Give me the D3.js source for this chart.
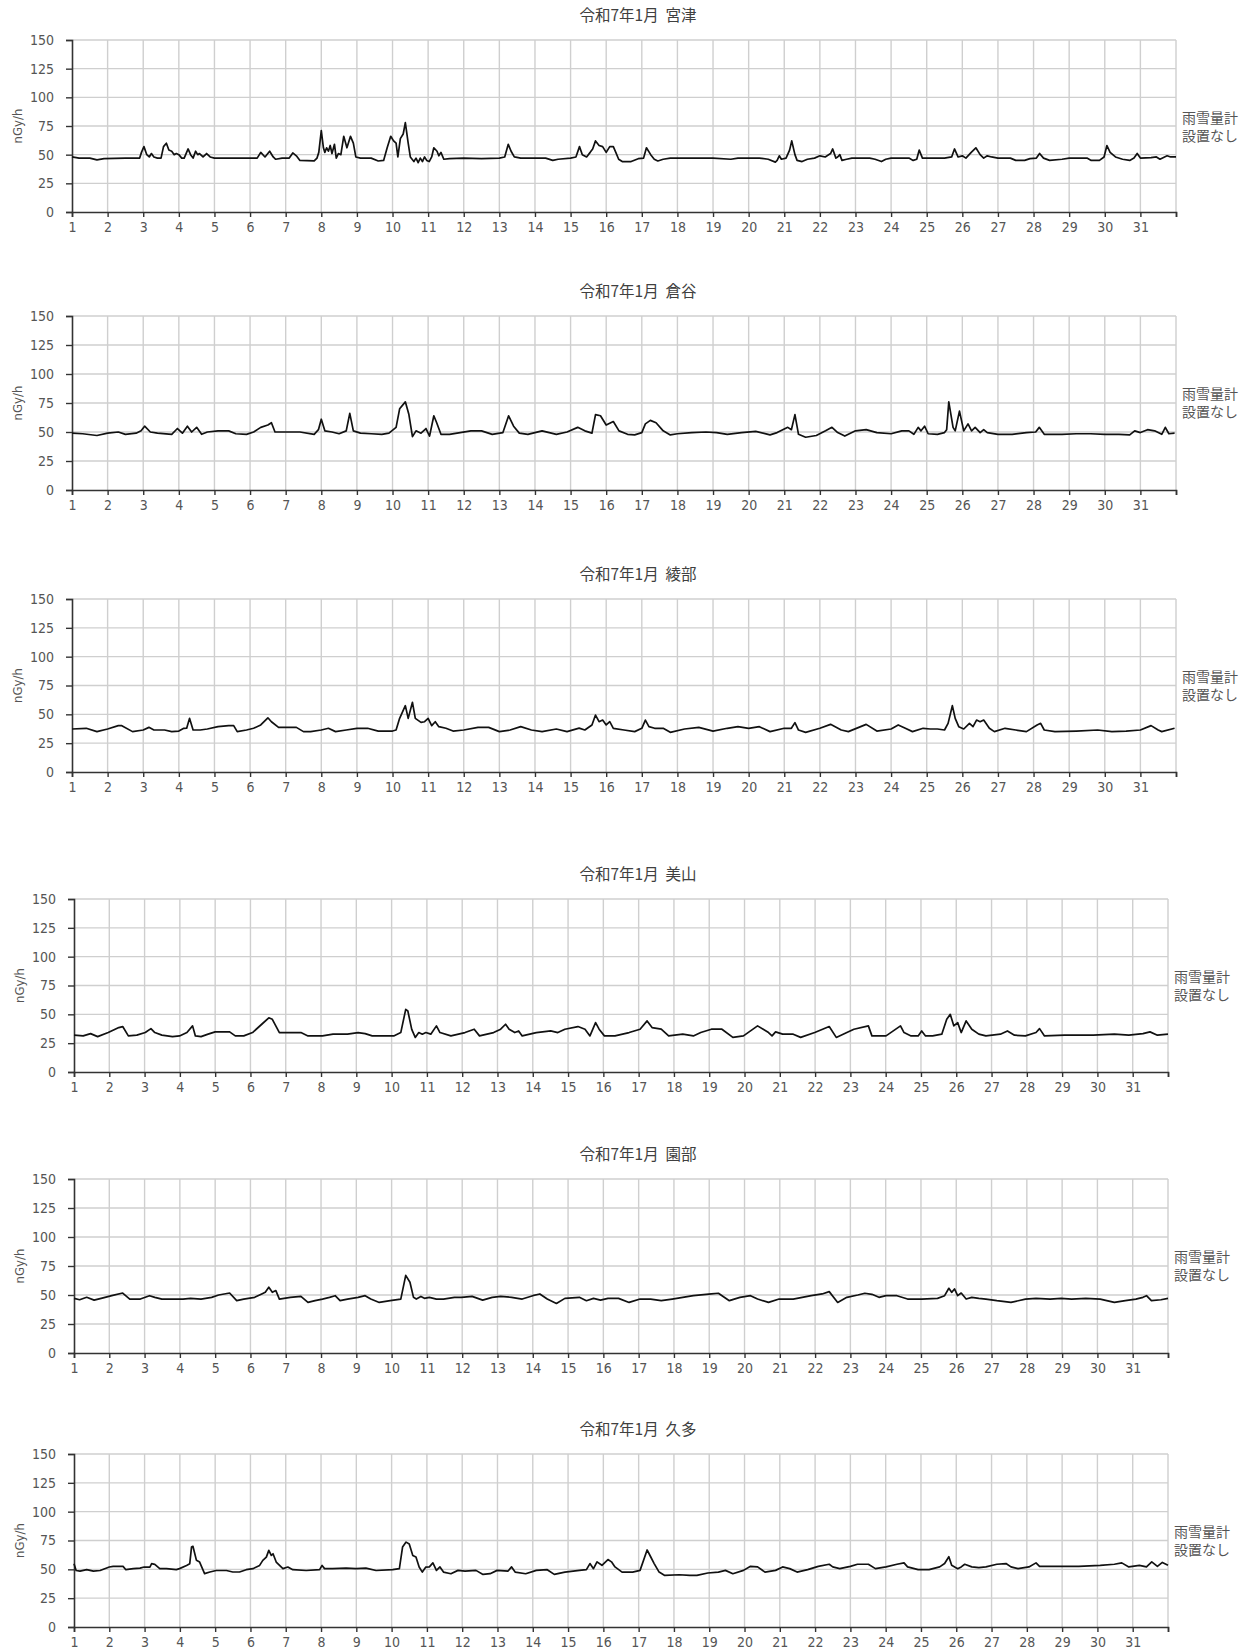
<!DOCTYPE html>
<html>
<head>
<meta charset="utf-8">
<style>
  body { margin: 0; background: #fff; }
  .tick text { font-family: "Liberation Sans Narrow", "DejaVu Sans Condensed", "Roboto Condensed", sans-serif; font-stretch: condensed; }
</style>
</head>
<body>
<script src="https://cdn.jsdelivr.net/npm/d3@7"></script>
<script>
// ---- data: January (令和7年) hourly dose rate ----
var month = "令和7年1月";
var dayTicks = d3.range(1, 32);
var yTicks = [0, 25, 50, 75, 100, 125, 150];
var stations = ["宮津", "倉谷", "綾部", "美山", "園部", "久多"];
var note = ["雨雪量計", "設置なし"];

var miyazu = [[1,48],[1.2,47],[1.5,47],[1.7,45.5],[1.9,46.5],[2.5,47],[2.9,47],[2.95,52],[3.02,57],[3.1,50],[3.17,48],[3.23,51],[3.3,48],[3.4,47],[3.5,47],[3.57,57],[3.65,60],[3.72,54],[3.8,53],[3.87,50],[3.93,51],[4,50],[4.08,47],[4.15,47],[4.26,55],[4.33,50],[4.4,47],[4.47,53],[4.53,50],[4.58,51],[4.68,48],[4.78,51],[4.88,48],[5,47],[5.5,47],[6,47],[6.2,47],[6.3,52],[6.42,48],[6.55,53],[6.65,48],[6.72,46],[6.9,47],[7.1,47],[7.2,51.5],[7.3,49],[7.4,45],[7.8,44.5],[7.88,47],[7.93,52],[8,71],[8.06,56],[8.1,52],[8.15,56],[8.2,53],[8.25,58],[8.3,51],[8.37,59],[8.42,47],[8.48,51],[8.55,50],[8.63,66],[8.72,56],[8.82,66],[8.9,60],[8.97,48],[9.1,47],[9.4,47],[9.6,44.5],[9.75,45],[9.85,56],[9.95,66],[10.03,62],[10.1,60],[10.15,48],[10.22,64],[10.3,68],[10.36,78],[10.44,60],[10.5,48],[10.55,46],[10.6,44],[10.66,47],[10.72,43],[10.78,47],[10.84,44],[10.9,48],[10.96,45],[11.03,44],[11.1,48],[11.16,56],[11.25,53],[11.3,49],[11.36,52],[11.44,46],[11.6,46.5],[12,47],[12.5,46.5],[13,47],[13.15,48],[13.25,59],[13.33,53],[13.42,48],[13.6,47],[14,47],[14.3,47],[14.5,45],[14.65,46],[15,47],[15.15,48],[15.25,57],[15.33,50],[15.45,48],[15.55,52],[15.62,55],[15.7,62],[15.8,58],[15.9,57],[16,52],[16.1,57],[16.2,57],[16.27,52],[16.35,46],[16.45,44],[16.7,44],[16.9,46.5],[17.05,47],[17.13,56],[17.25,50],[17.35,46],[17.45,44.5],[17.6,46],[17.8,47],[18.5,47],[19,47],[19.5,46],[19.7,47],[20.3,47],[20.55,46],[20.75,43.5],[20.8,45],[20.86,49],[20.92,46],[21.05,47],[21.15,54],[21.21,62],[21.3,50],[21.36,45],[21.5,44],[21.65,46],[21.85,47],[22,49],[22.15,48],[22.3,51],[22.36,55],[22.45,47],[22.5,48],[22.56,50],[22.62,45],[22.75,46],[22.9,47],[23.4,47],[23.55,46],[23.73,44],[23.85,46],[24,47],[24.5,47],[24.62,45],[24.72,46],[24.79,54],[24.88,47],[25.5,47],[25.7,48],[25.78,55],[25.88,48],[26,49],[26.1,47],[26.25,52],[26.38,56],[26.5,50],[26.6,47],[26.7,49],[26.82,48],[27,47],[27.35,47],[27.5,45],[27.75,45],[27.9,46.5],[28.08,47],[28.17,51],[28.28,47],[28.45,45],[28.8,46],[29,47],[29.5,47],[29.62,45],[29.85,45],[29.98,48],[30.06,58],[30.15,52],[30.3,48],[30.5,46],[30.7,45],[30.82,47],[30.91,51],[31,47],[31.3,47.5],[31.45,48],[31.55,46],[31.65,47.5],[31.75,49],[31.85,48],[32,48]];

var kuratani = [[1,49],[1.3,48.5],[1.7,47],[2,49],[2.3,50],[2.5,48],[2.8,49],[2.94,51],[3.04,55],[3.2,50],[3.4,49],[3.8,48],[3.96,53],[4.1,49],[4.24,55],[4.36,50],[4.5,54],[4.64,48],[4.8,50],[5.1,51],[5.4,51],[5.6,48.5],[5.9,48],[6.1,50],[6.3,54],[6.5,56],[6.6,58],[6.7,50],[7,50],[7.4,50],[7.8,48],[7.92,52],[8,61],[8.1,51],[8.3,50],[8.5,48.5],[8.7,51],[8.8,66],[8.9,51],[9.1,49],[9.4,48.5],[9.7,48],[9.9,49],[10.1,54],[10.2,70],[10.36,76],[10.46,65],[10.56,46],[10.66,51],[10.8,49],[10.94,53],[11.04,46.5],[11.16,64],[11.24,58],[11.36,48],[11.6,48],[11.9,49.5],[12.2,51],[12.5,51],[12.8,48],[13.1,49.5],[13.26,64],[13.4,55],[13.56,49],[13.8,48],[14.2,51],[14.6,48],[14.9,50],[15.2,54],[15.4,51],[15.6,49],[15.7,65],[15.84,64],[16,56],[16.2,59],[16.36,51],[16.6,48],[16.8,47.5],[17,49.5],[17.1,57],[17.24,60],[17.4,58],[17.6,51],[17.8,47.5],[18,48.5],[18.4,49.5],[18.8,50],[19.1,49.5],[19.4,48],[19.8,49.5],[20.2,50.5],[20.6,47.5],[20.8,49.5],[21.1,54],[21.2,52],[21.3,65],[21.4,48],[21.6,45.5],[21.9,47],[22.16,51],[22.34,54],[22.5,49.5],[22.7,46.5],[23,51],[23.3,52],[23.6,49.5],[24,48.5],[24.3,51],[24.5,51],[24.64,48],[24.76,54],[24.84,51],[24.94,55],[25.04,48.5],[25.3,48],[25.5,49.5],[25.56,52],[25.62,76],[25.74,54],[25.8,51],[25.92,68],[26.04,51],[26.16,57],[26.26,51],[26.36,54],[26.5,49.5],[26.6,52],[26.7,49.5],[27,48],[27.4,48],[27.8,49.5],[28.06,50],[28.16,54],[28.3,48],[28.8,48],[29.2,48.5],[29.6,48.5],[30,48],[30.4,48],[30.7,47.5],[30.84,51],[31,49.5],[31.2,52],[31.4,51],[31.6,48],[31.7,54],[31.8,48.5],[31.96,49]];

var ayabe = [[1,37.3],[1.4,37.9],[1.7,35],[2,37.3],[2.3,40.2],[2.4,40.2],[2.7,35],[3,36.4],[3.16,38.7],[3.3,36.4],[3.6,36.4],[3.8,35],[4,35.5],[4.14,37.9],[4.22,38],[4.3,46.5],[4.4,36.4],[4.6,36.4],[4.8,37.3],[5.1,39.3],[5.4,40.2],[5.54,40.2],[5.64,35],[5.9,36.4],[6.1,37.9],[6.3,40.8],[6.5,47],[6.6,43.6],[6.8,38.7],[7,38.7],[7.3,38.7],[7.5,35],[7.7,35],[8,36.4],[8.2,37.9],[8.4,35],[8.7,36.4],[9,37.9],[9.3,37.9],[9.6,35.5],[10,35.5],[10.1,36.4],[10.2,46.5],[10.36,57.5],[10.44,46.5],[10.56,60.4],[10.64,46.5],[10.8,43],[10.9,43.6],[11,46.5],[11.1,40.2],[11.2,43.6],[11.3,39.3],[11.5,37.9],[11.7,35.5],[12,36.4],[12.4,38.7],[12.7,38.7],[13,35],[13.3,36.4],[13.6,39.3],[13.9,36.4],[14.2,35],[14.6,37.3],[14.9,35],[15.24,38],[15.4,36.4],[15.6,40.8],[15.7,49.4],[15.8,43.6],[15.9,45],[16,40.8],[16.1,43.6],[16.2,37.9],[16.5,36.4],[16.8,35],[17,37.9],[17.1,45],[17.2,39.3],[17.36,37.9],[17.6,37.9],[17.8,34.4],[18.2,37.3],[18.6,38.7],[19,35.5],[19.4,37.9],[19.7,39.3],[20,37.9],[20.3,39.3],[20.6,35],[21,37.9],[21.2,37.9],[21.3,42.8],[21.4,36.4],[21.6,34.4],[22,37.9],[22.3,41.3],[22.6,36.4],[22.8,35],[23.3,41.3],[23.6,35.5],[24,37.3],[24.2,40.8],[24.4,37.9],[24.6,35],[24.9,37.9],[25.1,37.3],[25.3,37.3],[25.5,36.4],[25.6,42.2],[25.72,57.5],[25.8,46.5],[25.9,39.3],[26.04,37.3],[26.2,42.2],[26.3,39.3],[26.4,45],[26.5,43.6],[26.6,45],[26.76,37.9],[26.9,35],[27.2,37.9],[27.5,36.4],[27.8,35],[28.1,40.8],[28.2,42.2],[28.3,36.4],[28.6,35],[29.2,35.5],[29.8,36.4],[30.2,35],[30.6,35.5],[31,36.4],[31.3,40.2],[31.5,36.4],[31.6,35],[31.96,37.9]];

var miyama = [[1,32],[1.26,31.3],[1.47,33.3],[1.67,30.7],[1.97,34.2],[2.27,38.5],[2.38,39.4],[2.54,31.3],[2.78,32],[3.02,34.2],[3.18,37.6],[3.29,34.2],[3.49,32],[3.79,30.7],[3.99,31.3],[4.2,34.2],[4.36,40],[4.44,31.3],[4.6,30.7],[4.8,32.8],[5,34.8],[5.41,34.8],[5.57,31.3],[5.81,31.3],[6.06,34.2],[6.32,41.4],[6.52,47],[6.62,45.7],[6.82,34.2],[7.03,34.2],[7.43,34.2],[7.63,31.3],[8.04,31.3],[8.34,32.8],[8.75,32.8],[9.05,34.2],[9.25,33.3],[9.45,31.3],[10.06,31.3],[10.26,34.2],[10.4,54.3],[10.46,52.9],[10.57,37],[10.67,30],[10.77,34.2],[10.87,32.8],[10.97,34.2],[11.11,32.8],[11.27,40],[11.37,34.2],[11.68,31.3],[12.08,34.2],[12.34,37.1],[12.49,31.3],[12.89,34.2],[13.09,37.1],[13.23,41.4],[13.33,37.1],[13.49,34.2],[13.6,35.6],[13.7,31.3],[14.1,34.2],[14.51,35.6],[14.71,34.2],[14.91,37.1],[15.28,39.4],[15.48,37.1],[15.62,31.3],[15.78,42.8],[15.88,37.1],[16.03,31.3],[16.33,31.3],[16.73,34.2],[17.04,37.1],[17.24,44.3],[17.38,38.5],[17.64,37.1],[17.85,31.3],[18.25,32.8],[18.55,31.3],[18.76,34.2],[19.06,37.1],[19.36,37.1],[19.67,30],[19.97,31.3],[20.37,40],[20.68,34.2],[20.78,31.3],[20.88,34.8],[21.08,32.8],[21.38,32.8],[21.59,30],[21.99,34.2],[22.4,39.4],[22.6,30],[22.9,34.2],[23.1,37.1],[23.51,40],[23.61,31.3],[24.01,31.3],[24.42,40],[24.52,34.2],[24.72,31.3],[24.92,31.3],[25.02,35.6],[25.13,31.3],[25.33,31.3],[25.59,32.8],[25.73,45.7],[25.83,50],[25.93,40],[26.04,42.8],[26.14,34.2],[26.28,44.3],[26.44,37.1],[26.64,32.8],[26.84,31.3],[27.25,32.8],[27.45,35.6],[27.65,31.9],[27.96,31.3],[28.26,34.2],[28.36,37.6],[28.5,31.3],[29.07,31.9],[29.88,31.9],[30.48,32.8],[30.89,31.9],[31.29,33.3],[31.49,34.8],[31.7,31.9],[32,32.8]];

var sonobe = [[1,47.1],[1.16,45.9],[1.36,48],[1.57,45.6],[1.77,47.1],[2.07,49.4],[2.38,51.7],[2.58,46.5],[2.88,46.5],[3.14,49.4],[3.29,48],[3.49,46.5],[3.79,46.5],[4.09,46.5],[4.3,47.1],[4.6,46.5],[4.9,48],[5.1,50],[5.41,51.7],[5.61,45.1],[5.81,46.5],[6.12,48],[6.32,50.9],[6.42,52.3],[6.52,56.7],[6.62,52.3],[6.72,53.8],[6.82,46.5],[7.13,48],[7.43,48.8],[7.63,43.6],[7.83,45.1],[8.04,46.5],[8.24,48],[8.4,49.4],[8.54,45.1],[8.75,46.5],[9.05,48],[9.25,49.4],[9.41,46.5],[9.65,43.6],[9.96,45.1],[10.26,46.5],[10.4,66.9],[10.52,61],[10.62,48],[10.7,46.5],[10.83,48.8],[10.93,47.1],[11.07,48],[11.27,46.5],[11.47,46.5],[11.78,48],[11.98,48],[12.28,48.8],[12.58,45.6],[12.85,48],[13.09,48.8],[13.4,48],[13.7,46.5],[14,49.4],[14.2,50.9],[14.41,46.5],[14.67,42.7],[14.91,47.1],[15.32,48],[15.52,45.1],[15.72,47.1],[15.92,45.6],[16.13,47.1],[16.43,47.1],[16.73,43.6],[17.04,46.5],[17.34,46.5],[17.64,45.1],[17.95,46.5],[18.25,48],[18.55,49.4],[19.06,50.9],[19.26,51.5],[19.57,45.1],[19.87,48],[20.17,49.4],[20.37,46.5],[20.68,43.6],[20.98,46.5],[21.38,46.5],[21.89,49.4],[22.2,50.9],[22.4,52.9],[22.64,43.6],[22.9,48],[23.21,50],[23.41,51.5],[23.61,50.6],[23.81,48],[24.01,49.4],[24.32,49.4],[24.62,46.5],[25.02,46.5],[25.47,47.1],[25.67,49.4],[25.79,55.8],[25.87,52.3],[25.95,55.2],[26.04,49.4],[26.14,51.7],[26.28,46.5],[26.44,48],[26.64,47.1],[26.84,46.5],[27.15,45.1],[27.55,43.6],[27.96,46.5],[28.26,47.1],[28.66,46.5],[28.97,47.1],[29.27,46.5],[29.67,47.1],[30.08,46.5],[30.48,43.6],[30.79,45.1],[31.09,46.5],[31.29,48],[31.39,49.4],[31.53,45.1],[31.8,45.9],[32,47.1]];

var kuta = [[1,54.9],[1.06,49],[1.17,48.5],[1.36,49.7],[1.55,48.5],[1.74,49],[2,52],[2.11,52.6],[2.39,52.6],[2.47,49.7],[2.68,50.6],[2.87,51.1],[2.99,52],[3.15,52],[3.2,54.9],[3.29,54.3],[3.43,50.6],[3.62,50.6],[3.9,49.7],[3.99,50.6],[4.19,53.4],[4.28,54.9],[4.33,69.3],[4.37,70],[4.47,57.8],[4.56,56.3],[4.7,46.3],[4.85,47.7],[5.03,49],[5.32,49],[5.5,47.7],[5.69,47.7],[5.88,49.7],[6.07,50.6],[6.26,53.4],[6.35,57.8],[6.45,60.6],[6.52,66.4],[6.59,62.1],[6.64,63.5],[6.73,56.3],[6.92,50.6],[7.06,52],[7.2,49.7],[7.58,49],[7.96,49.7],[8.03,53.4],[8.1,50.6],[8.33,50.6],[8.71,51.1],[8.99,50.6],[9.27,51.1],[9.56,49],[10.03,49.7],[10.22,50.6],[10.31,69.3],[10.41,73.6],[10.5,72],[10.6,62],[10.69,60.6],[10.78,52],[10.87,47.6],[10.97,52],[11.07,52.1],[11.17,55.6],[11.27,49.1],[11.37,52.1],[11.47,47.6],[11.68,46.2],[11.88,49.1],[12.08,48.5],[12.39,49.1],[12.59,45.6],[12.79,46.2],[12.99,49.1],[13.3,48.5],[13.4,52.1],[13.5,47.6],[13.8,46.2],[14.1,49.1],[14.41,49.7],[14.61,45.6],[14.91,47.6],[15.32,49.1],[15.52,49.7],[15.62,55],[15.72,50.6],[15.82,56.5],[15.96,53.5],[16.13,58.5],[16.23,56.5],[16.33,52.1],[16.53,47.6],[16.83,47.6],[17.04,49.1],[17.24,66.8],[17.34,60.9],[17.44,55],[17.58,47.6],[17.74,44.7],[18.15,45.3],[18.45,44.7],[18.65,44.7],[18.96,46.8],[19.26,47.6],[19.46,49.1],[19.67,46.2],[19.97,49.1],[20.17,52.6],[20.37,52.1],[20.58,47.6],[20.88,49.1],[21.08,52.1],[21.28,50.6],[21.49,47.6],[21.79,49.7],[22.09,52.6],[22.4,54.4],[22.5,52.1],[22.7,50.6],[23,52.6],[23.2,54.4],[23.51,54.4],[23.71,50.6],[24.01,52.1],[24.32,54.4],[24.52,55.6],[24.62,52.1],[24.92,49.7],[25.23,49.7],[25.53,52.1],[25.67,55],[25.79,60.9],[25.87,53.5],[26.04,50.6],[26.14,52.1],[26.24,54.4],[26.44,52.1],[26.64,51.5],[26.84,52.1],[27.15,54.4],[27.41,55],[27.55,52.1],[27.75,50.6],[28.06,52.1],[28.26,55.6],[28.36,52.6],[28.66,52.6],[29.47,52.6],[30.08,53.5],[30.48,54.4],[30.69,55.6],[30.89,52.1],[31.19,53.5],[31.39,52.1],[31.54,56.5],[31.7,52.6],[31.84,56],[32,53.5]];

var series = [miyazu, kuratani, ayabe, miyama, sonobe, kuta];

// ---- layout (pixels) ----
var W = 1251, H = 1649;
var frames = [
  {l: 72, r: 1176, t: 40,   b: 212},
  {l: 72, r: 1176, t: 316,  b: 490},
  {l: 72, r: 1176, t: 599,  b: 772},
  {l: 74, r: 1168, t: 899,  b: 1072},
  {l: 74, r: 1168, t: 1179, b: 1353},
  {l: 74, r: 1168, t: 1454, b: 1627}
];

var svg = d3.select("body").append("svg")
    .attr("width", W)
    .attr("height", H);

frames.forEach(function(f, i) {
  var x = d3.scaleLinear().domain([1, 32]).range([f.l, f.r]);
  var y = d3.scaleLinear().domain([0, 150]).range([f.b, f.t]);
  var g = svg.append("g");

  // grid
  g.append("g").selectAll("line").data(dayTicks.slice(1).concat([32]))
    .enter().append("line")
      .attr("x1", function(d) { return x(d); }).attr("x2", function(d) { return x(d); })
      .attr("y1", f.t).attr("y2", f.b)
      .attr("stroke", "#cfcfcf").attr("stroke-width", 1.4);
  g.append("g").selectAll("line").data(yTicks.slice(1))
    .enter().append("line")
      .attr("x1", f.l).attr("x2", f.r)
      .attr("y1", function(d) { return y(d); }).attr("y2", function(d) { return y(d); })
      .attr("stroke", "#cfcfcf").attr("stroke-width", 1.4);

  // axes
  var ya = g.append("g").attr("transform", "translate(" + f.l + ",0)")
    .call(d3.axisLeft(y).tickValues(yTicks).tickSize(6).tickPadding(12));
  var xa = g.append("g").attr("transform", "translate(0," + f.b + ")")
    .call(d3.axisBottom(x).tickValues(dayTicks.concat([32])).tickSize(5).tickPadding(5)
      .tickFormat(function(d) { return d < 32 ? d : ""; }));
  [ya, xa].forEach(function(a) {
    a.select(".domain").attr("stroke", "#333").attr("stroke-width", 1.6);
    a.selectAll(".tick line").attr("stroke", "#333").attr("stroke-width", 1.4);
    a.selectAll(".tick text").attr("fill", "#555").attr("font-size", 14);
  });

  // data line
  g.append("path").datum(series[i])
    .attr("fill", "none")
    .attr("stroke", "#111")
    .attr("stroke-width", 1.7)
    .attr("stroke-linejoin", "round")
    .attr("d", d3.line().x(function(d) { return x(d[0]); }).y(function(d) { return y(d[1]); }));

  // title (two spaces kept between month and station)
  g.append("text")
    .attr("x", 638).attr("y", f.t - 19)
    .attr("text-anchor", "middle")
    .attr("font-family", "'Noto Sans CJK JP', sans-serif")
    .attr("font-size", 15.5)
    .attr("fill", "#404040")
    .text(month + "\u00a0\u00a0" + stations[i]);

  // y label
  g.append("text")
    .attr("transform", "translate(" + (f.l - 50) + "," + ((f.t + f.b) / 2) + ") rotate(-90)")
    .attr("text-anchor", "middle")
    .attr("font-family", "'DejaVu Sans Condensed', 'Liberation Sans Narrow', sans-serif")
    .attr("font-size", 13)
    .attr("fill", "#555")
    .text("nGy/h");

  // right note
  note.forEach(function(s, k) {
    g.append("text")
      .attr("x", f.r + 6).attr("y", f.t + 83 + k * 18)
      .attr("font-family", "'Noto Sans CJK JP', sans-serif")
      .attr("font-size", 14)
      .attr("fill", "#555")
      .text(s);
  });
});
</script>
</body>
</html>
